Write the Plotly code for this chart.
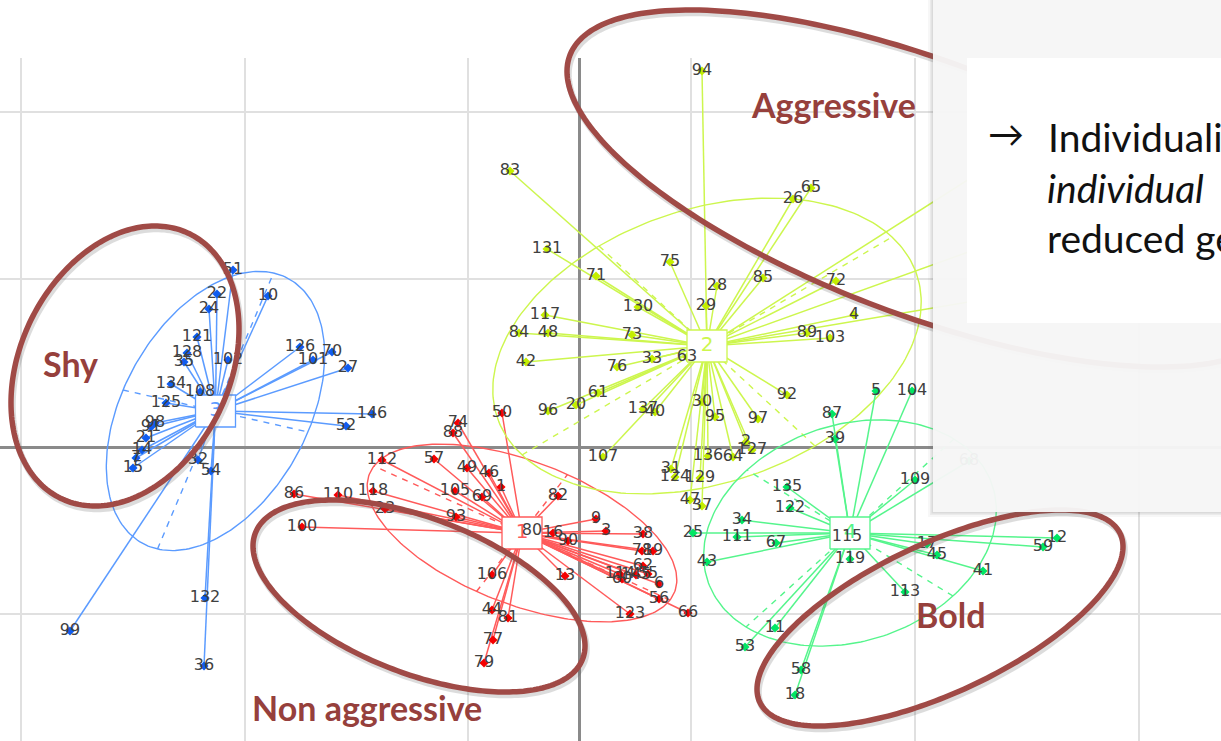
import numpy as np
import plotly.graph_objects as go

# --- chart values (first / second axis scores, in the chart's own units) ---
shy_ids = ["51","22","24","10","121","128","35","102","126","70","101","27","134","108","125","146","52","98","91","21","14","7","15","32","54","132","36","99"]
shy_x = [-346,-362,-370,-311,-382,-392,-395,-351,-279,-247,-266,-231,-408,-379,-413,-207,-233,-424,-428,-433,-437,-443,-446,-381,-368,-374,-375,-509]
shy_y = [177,153,138,151,110,94,85,87,100,95,87,79,63,55,44,33,21,24,20,9,-3,-11,-21,-13,-24,-151,-219,-184]

non_ids = ["74","88","50","112","57","49","46","1","105","69","82","118","110","86","100","23","93","80","16","90","9","3","38","78","19","62","60","114","145","55","6","56","66","123","13","106","44","81","77","79"]
non_x = [-121,-126,-77,-197,-145,-112,-90,-78,-124,-97,-21,-206,-241,-285,-277,-194,-123,-47,-26,-11,17,27,64,63,74,64,43,41,57,69,80,80,109,51,-14,-87,-87,-71,-86,-95]
non_y = [24,14,34,-13,-12,-21,-26,-40,-44,-50,-49,-44,-48,-47,-80,-62,-70,-84,-86,-94,-72,-84,-87,-104,-104,-119,-132,-127,-128,-127,-137,-152,-166,-167,-129,-128,-163,-171,-193,-216]

agg_ids = ["94","83","65","26","131","75","71","28","85","72","29","130","117","4","84","48","73","89","103","42","33","76","63","61","20","96","92","137","40","30","95","97","107","2","127","64","136","31","124","129","47","37","","",""]
agg_x = [123,-69,232,214,-32,91,17,138,184,257,127,59,-34,275,-60,-31,53,228,251,-53,73,38,108,19,-3,-31,208,64,76,123,136,179,24,167,173,154,129,92,96,121,111,123,431,431,431]
agg_y = [376,276,259,248,198,185,171,161,169,166,141,140,132,132,114,114,112,114,109,85,88,80,90,54,42,36,52,38,35,45,30,28,-10,5,-3,-10,-9,-22,-30,-31,-53,-59,294,210,152]

bold_ids = ["122","135","34","25","111","67","43","119","115","17","45","12","59","41","113","11","53","58","18","87","39","5","104","109","68"]
bold_x = [211,208,163,114,158,197,128,271,268,348,358,478,464,404,326,196,166,222,216,253,256,297,333,336,390]
bold_y = [-61,-40,-73,-86,-90,-96,-115,-112,-90,-97,-108,-91,-100,-124,-145,-181,-200,-223,-248,33,8,56,56,-33,-14]

class_names = ["3", "1", "2", "4"]
class_cx = [-363.5, -57, 128, 271]
class_cy = [36, -86, 101, -86]
# ellipse semi-axes as vectors
axis_ax = [58, -148, 185, -104]
axis_ay = [138, 67, 109, -94]
axis_bx = [92.5, 45.5, 108, -103]
axis_by = [-21, 58.5, -100, 63]

callout_names = ["Shy", "Non aggressive", "Bold", "Aggressive"]
callout_cx = [-454, -160, 361, 346]
callout_cy = [81, -149, -171, 258.5]
callout_hx = [114, 166, 183, 358]
callout_hy = [140, 96, 108, 178.5]
callout_rho = [0.263, -0.52, 0.66, -0.656]
callout_label_x = [-509, -212, 371, 254]
callout_label_y = [84, -260, -167, 343]

grid_x = [-558, -334, -111, 112, 336, 560]
grid_y = [335, 168, -167]

groups = [
    (shy_ids, shy_x, shy_y, "#5b9bff", "#0f5cf0"),
    (non_ids, non_x, non_y, "#ff5a5a", "#f50000"),
    (agg_ids, agg_x, agg_y, "#cdf64e", "#c4ee00"),
    (bold_ids, bold_x, bold_y, "#55f58c", "#00e664"),
]

W, H, TOP = 1221, 741, 58
X_MIN, X_MAX, Y_MIN, Y_MAX = -579, 642, -294, 389
fig = go.Figure()
t = np.linspace(0, 2 * np.pi, 241)

for i, (ids, xs, ys, line_c, mark_c) in enumerate(groups):
    cx, cy = class_cx[i], class_cy[i]
    ax, ay, bx, by = axis_ax[i], axis_ay[i], axis_bx[i], axis_by[i]
    fig.add_trace(go.Scatter(x=cx + ax * np.cos(t) + bx * np.sin(t), y=cy + ay * np.cos(t) + by * np.sin(t),
                             mode="lines", line=dict(color=line_c, width=1.4), hoverinfo="skip"))
    dx, dy = [], []
    for ex, ey in ((ax, ay), (bx, by)):
        dx += [cx - ex, cx + ex, None]
        dy += [cy - ey, cy + ey, None]
    fig.add_trace(go.Scatter(x=dx, y=dy, mode="lines", line=dict(color=line_c, width=1.4, dash="6px,6px"), hoverinfo="skip"))
    sx, sy = [], []
    for px, py in zip(xs, ys):
        sx += [cx, px, None]
        sy += [cy, py, None]
    fig.add_trace(go.Scatter(x=sx, y=sy, mode="lines", line=dict(color=line_c, width=1.5), hoverinfo="skip"))
    fig.add_trace(go.Scatter(x=xs, y=ys, mode="markers", marker=dict(symbol="diamond", size=7, color=mark_c, line=dict(width=0))))
    hw, hh = 20, 16
    fig.add_trace(go.Scatter(x=[cx - hw, cx + hw, cx + hw, cx - hw, cx - hw], y=[cy - hh, cy - hh, cy + hh, cy + hh, cy - hh],
                             mode="lines", fill="toself", fillcolor="white", line=dict(color=line_c, width=1.3), hoverinfo="skip"))
    fig.add_trace(go.Scatter(x=[cx], y=[cy], mode="text", text=[class_names[i]], textposition="middle center",
                             textfont=dict(family="DejaVu Sans", size=20, color=line_c), hoverinfo="skip"))

for ids, xs, ys, line_c, mark_c in groups:
    fig.add_trace(go.Scatter(x=xs, y=ys, mode="text", text=ids, textposition="middle center",
                             textfont=dict(family="DejaVu Sans", size=16, color="#404040"), hoverinfo="skip"))


def px_x(v):
    return v / W


def px_y(v):
    return (H - v) / (H - TOP)


def rect(x0, y0, x1, y1, fill, opacity=1.0):
    return dict(type="rect", xref="paper", yref="paper", x0=px_x(x0), x1=px_x(x1), y0=px_y(y1), y1=px_y(y0),
                fillcolor=fill, opacity=opacity, line=dict(width=0), layer="above")


def data_path(xs, ys):
    fx = (xs - X_MIN) / (X_MAX - X_MIN)
    fy = (ys - Y_MIN) / (Y_MAX - Y_MIN)
    return "M " + " L ".join("%.5f,%.5f" % p for p in zip(fx, fy)) + " Z"


shapes = []
# call-out ellipses: shadow then stroke, sit above the plot and below the panel
for cx, cy, hx, hy, rho in zip(callout_cx, callout_cy, callout_hx, callout_hy, callout_rho):
    ex = cx + hx * np.cos(t)
    ey = cy + hy * (rho * np.cos(t) + np.sqrt(1 - rho ** 2) * np.sin(t))
    shapes.append(dict(type="path", xref="paper", yref="paper", path=data_path(ex + 1.5, ey - 3), opacity=0.2,
                       line=dict(color="#555555", width=6.5), layer="above"))
    shapes.append(dict(type="path", xref="paper", yref="paper", path=data_path(ex, ey),
                       line=dict(color="#a04a46", width=5.5), layer="above"))
# overlaid slide panel
for k, a in ((5, 0.05), (3, 0.08), (1.5, 0.12)):
    shapes.append(rect(933 - k, 0, W, 512 + k, "#666666", a))
shapes.append(rect(933, 0, W, 512, "#f8f8f8", 0.95))
shapes.append(rect(967, 58, W, 323, "#ffffff", 1.0))

annotations = []
for name, lx, ly in zip(callout_names, callout_label_x, callout_label_y):
    annotations.append(dict(x=lx, y=ly, xref="x", yref="y", text="<b>%s</b>" % name, showarrow=False,
                            xanchor="center", yanchor="middle", font=dict(family="Lato", size=34, color="#96403c")))
panel_lines = [("\u2192", 986, 133, False, 36), ("Individuali", 1046, 137, False, 39),
               ("individual", 1045, 188, True, 39), ("reduced ge", 1045, 238, False, 39)]
for txt, lx, ly, ital, size in panel_lines:
    annotations.append(dict(x=px_x(lx), y=px_y(ly), xref="paper", yref="paper", text="<i>%s</i>" % txt if ital else txt,
                            showarrow=False, xanchor="left", yanchor="middle",
                            font=dict(family="Lato", size=size, color="#111111")))

fig.update_layout(
    width=W, height=H, margin=dict(l=0, r=0, t=TOP, b=0), showlegend=False,
    paper_bgcolor="white", plot_bgcolor="white", shapes=shapes, annotations=annotations,
    xaxis=dict(range=[X_MIN, X_MAX], tickvals=grid_x, showticklabels=False, ticks="", showgrid=True, gridcolor="#e0e0e0",
               gridwidth=2, zeroline=True, zerolinecolor="#8a8a8a", zerolinewidth=2.5, showline=False),
    yaxis=dict(range=[Y_MIN, Y_MAX], tickvals=grid_y, showticklabels=False, ticks="", showgrid=True, gridcolor="#e0e0e0",
               gridwidth=2, zeroline=True, zerolinecolor="#8a8a8a", zerolinewidth=2.5, showline=False),
)
fig.write_html("out.html", config=dict(displayModeBar=False),
               post_script="document.body.style.margin='0';document.body.style.overflow='hidden';")
